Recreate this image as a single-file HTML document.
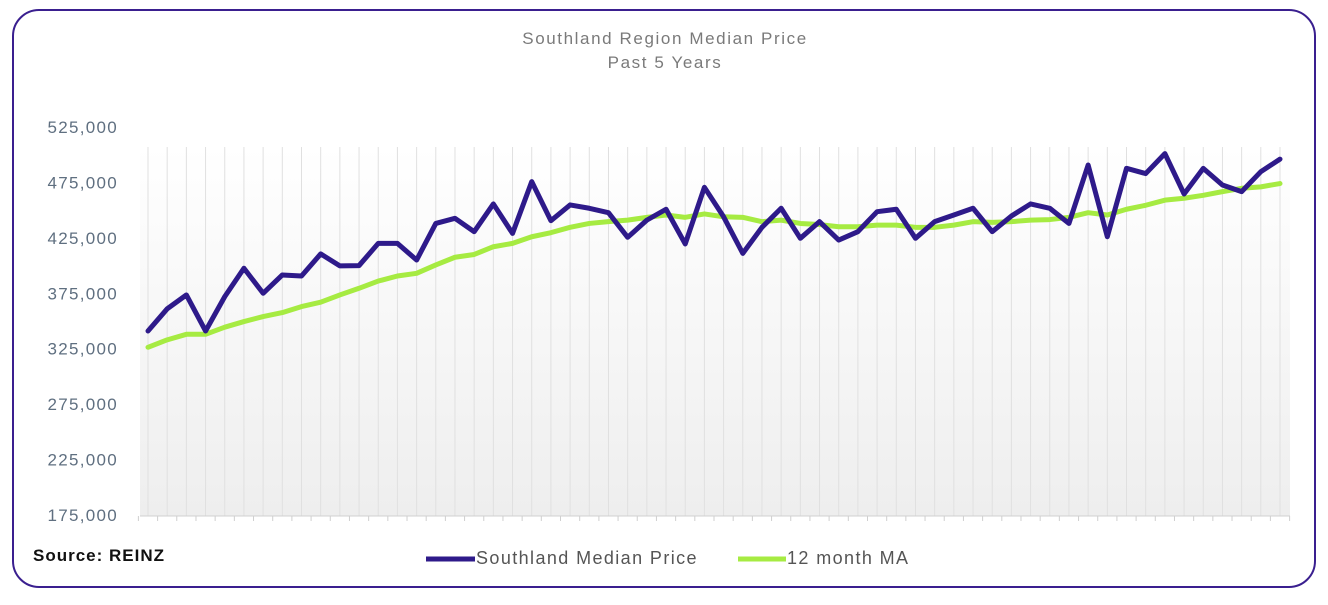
<!DOCTYPE html>
<html><head><meta charset="utf-8"><style>
html,body{margin:0;padding:0;background:#fff;}
body{width:1328px;height:600px;overflow:hidden;font-family:"Liberation Sans",sans-serif;}
</style></head><body>
<svg width="1328" height="600" viewBox="0 0 1328 600">
<defs><linearGradient id="bg" x1="0" y1="0" x2="0" y2="1">
<stop offset="0" stop-color="#ffffff"/><stop offset="1" stop-color="#eeeeee"/></linearGradient></defs>
<rect x="13" y="10" width="1302" height="577" rx="26" fill="#fff" stroke="#3a1f8f" stroke-width="2"/>
<text x="665" y="44" text-anchor="middle" font-size="17" letter-spacing="1.6" fill="#7a7a7a">Southland Region  Median Price</text>
<text x="665" y="68" text-anchor="middle" font-size="17" letter-spacing="1.6" fill="#7a7a7a">Past  5 Years</text>
<rect x="140" y="147" width="1150" height="369" fill="url(#bg)"/>
<g id="grid"></g><g id="yaxis"></g><g id="ticks"></g><g id="lines"></g>
<line x1="140" y1="516" x2="1290" y2="516" stroke="#d0d0d0" stroke-width="1"/>
<text x="33" y="561" font-size="17" font-weight="bold" letter-spacing="1" fill="#111">Source: REINZ</text>
<g>
<line x1="426" y1="559" x2="475" y2="559" stroke="#2e1a8a" stroke-width="5"/>
<text x="476" y="564" font-size="18" letter-spacing="1.4" fill="#555">Southland Median Price</text></g>
<g>
<line x1="738" y1="559" x2="786" y2="559" stroke="#a6eb42" stroke-width="5"/>
<text x="787" y="564" font-size="18" letter-spacing="1.4" fill="#555">12 month MA</text></g>
</svg>
<script>
const medianValues=[341,361,373.5,341,372,397.6,375,391.5,390.6,410.5,399.7,400,420,420,405,438,442.6,430.6,455.6,429,475.7,440.5,454.7,451.7,447.7,425.5,441,450.8,419.5,470.6,444,411,434.5,451.7,424.6,439.6,423,430.6,448.6,450.8,424.6,439.6,445.6,451.7,430.6,444.7,455.6,451.7,438,490.7,426,487.7,483,501,464.6,487.7,472.7,466.7,484.7,496];
const maValues=[326.3,333,338,338,344.4,349.5,354,357.6,363,367,373.5,379.5,386,390.6,393,400.6,407.5,410,417,420,426,429.7,434.5,438,439.6,441,443.5,445.6,443.5,446.6,444,443.5,439.6,441,438,437,435,435,436.5,436.5,434.5,434.5,436.5,439.6,439,439.6,441,441.5,443.5,447.7,445.6,450.8,454.4,459,460.7,463.4,466.7,469.7,471,474];
const yTickLabels=["175,000","225,000","275,000","325,000","375,000","425,000","475,000","525,000"];
const yTickValues=[175,225,275,325,375,425,475,525];
const NS="http://www.w3.org/2000/svg";
const x0=148,x1=1280,yTop=127,yBot=515,vMin=175,vMax=525;
const n=medianValues.length;
function xs(i){return x0+i*(x1-x0)/(n-1);}
function ys(v){return yBot-(v-vMin)/(vMax-vMin)*(yBot-yTop);}
function mk(t,a){const e=document.createElementNS(NS,t);for(const k in a)e.setAttribute(k,a[k]);return e;}
const grid=document.getElementById('grid'),ticks=document.getElementById('ticks'),ya=document.getElementById('yaxis'),lines=document.getElementById('lines');
for(let i=0;i<n;i++){
 const g=mk('line',{x1:xs(i),x2:xs(i),y1:147,y2:516,stroke:'#e0e0e0','stroke-width':1});
 
 
 grid.appendChild(g);
}
for(let i=0;i<=n;i++){
 const tx=xs(i)-(x1-x0)/(n-1)/2;
 const t=mk('line',{x1:tx,x2:tx,y1:516,y2:521,stroke:'#cfcfcf','stroke-width':1});
 
 
 ticks.appendChild(t);
}
yTickValues.forEach((v,i)=>{
 const t=mk('text',{x:118,y:ys(v)+6,'text-anchor':'end','font-size':17,'letter-spacing':1.3,fill:'#5f6f80'});
 t.textContent=yTickLabels[i];
 
 
 ya.appendChild(t);
});
function line(vals,color,name){
 const p=mk('polyline',{points:vals.map((v,i)=>xs(i)+','+ys(v)).join(' '),fill:'none',stroke:color,'stroke-width':5,'stroke-linejoin':'round','stroke-linecap':'round'});
 
 
 lines.appendChild(p);
}
line(maValues,'#a6eb42','ma-line');
line(medianValues,'#2e1a8a','median-price-line');
</script>
</body></html>
